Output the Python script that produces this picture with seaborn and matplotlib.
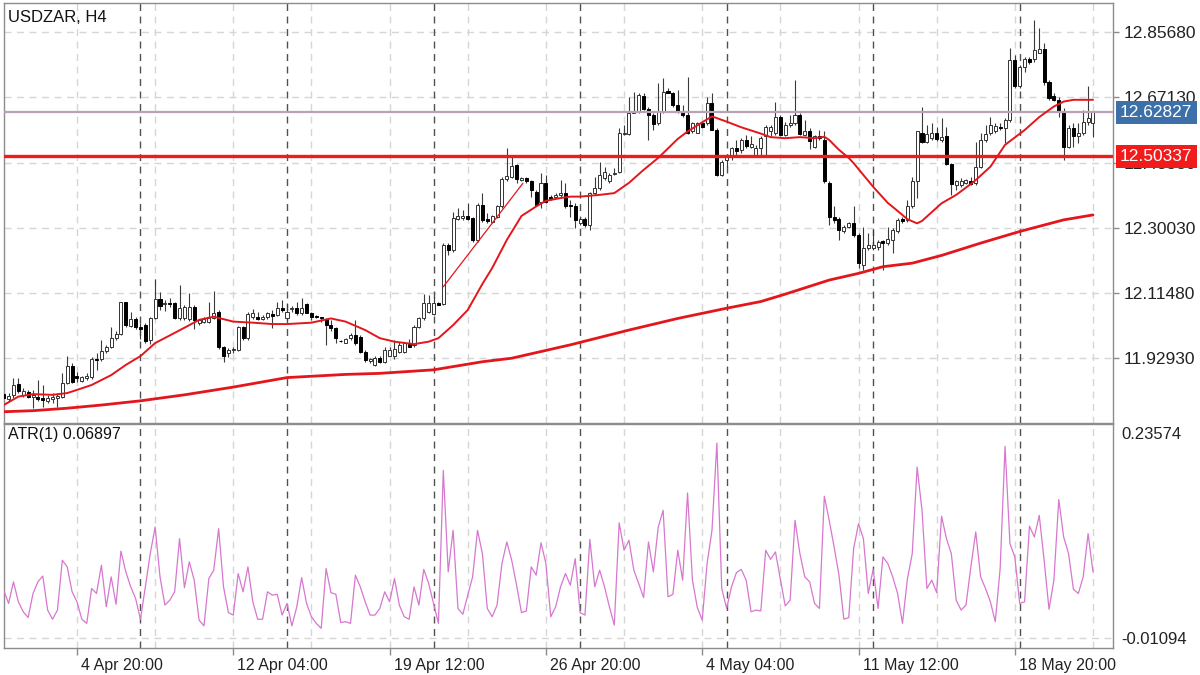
import numpy as np
import pandas as pd
import matplotlib
matplotlib.use("Agg")
import matplotlib.pyplot as plt
import matplotlib.transforms as mtransforms
import seaborn as sns

# USDZAR H4 candles, bar 0 = 2 Apr 12:00
opens = [
    11.828, 11.815, 11.825, 11.857, 11.825, 11.834, 11.819, 11.821, 11.816, 11.809,
    11.815, 11.817, 11.821, 11.861, 11.909, 11.880, 11.866, 11.874, 11.876, 11.929,
    11.927, 11.950, 11.963, 11.987, 11.999, 12.089, 12.022, 12.042, 12.018, 12.024,
    11.982, 12.044, 12.097, 12.084, 12.088, 12.086, 12.043, 12.043, 12.041, 12.075,
    12.031, 12.034, 12.033, 12.045, 12.062, 11.961, 11.944, 11.953, 11.953, 12.018,
    11.987, 12.046, 12.048, 12.042, 12.046, 12.055, 12.052, 12.072, 12.043, 12.069,
    12.072, 12.058, 12.084, 12.059, 12.050, 12.046, 12.041, 12.024, 12.015, 11.980,
    11.974, 11.987, 11.996, 11.991, 11.949, 11.923, 11.911, 11.930, 11.920, 11.936,
    11.935, 11.949, 11.949, 11.970, 11.968, 12.018, 12.043, 12.062, 12.056, 12.088,
    12.084, 12.252, 12.238, 12.325, 12.327, 12.334, 12.327, 12.266, 12.365, 12.325,
    12.318, 12.332, 12.361, 12.438, 12.446, 12.479, 12.436, 12.441, 12.432, 12.403,
    12.375, 12.427, 12.387, 12.389, 12.394, 12.400, 12.365, 12.363, 12.313, 12.325,
    12.309, 12.398, 12.413, 12.441, 12.432, 12.452, 12.460, 12.567, 12.567, 12.626,
    12.631, 12.675, 12.637, 12.621, 12.597, 12.631, 12.690, 12.684, 12.649, 12.633,
    12.621, 12.574, 12.571, 12.597, 12.597, 12.656, 12.578, 12.451, 12.493, 12.501,
    12.526, 12.522, 12.550, 12.529, 12.507, 12.526, 12.560, 12.574, 12.569, 12.614,
    12.564, 12.593, 12.597, 12.621, 12.564, 12.574, 12.529, 12.561, 12.550, 12.429,
    12.332, 12.325, 12.292, 12.302, 12.313, 12.280, 12.195, 12.242, 12.242, 12.245,
    12.264, 12.256, 12.266, 12.290, 12.325, 12.323, 12.361, 12.432, 12.571, 12.545,
    12.555, 12.571, 12.550, 12.561, 12.482, 12.422, 12.422, 12.427, 12.432, 12.427,
    12.474, 12.550, 12.569, 12.574, 12.588, 12.583, 12.607, 12.777, 12.702, 12.758,
    12.779, 12.779, 12.798, 12.808, 12.716, 12.675, 12.664, 12.631, 12.529, 12.583,
    12.561, 12.571, 12.602, 12.599,
]
highs = [
    11.835, 11.830, 11.873, 11.873, 11.845, 11.840, 11.840, 11.868, 11.854, 11.826,
    11.830, 11.832, 11.887, 11.936, 11.917, 11.892, 11.880, 11.887, 11.933, 11.944,
    11.982, 11.968, 12.020, 12.006, 12.091, 12.091, 12.060, 12.048, 12.029, 12.029,
    12.048, 12.154, 12.119, 12.095, 12.100, 12.091, 12.138, 12.081, 12.114, 12.081,
    12.041, 12.048, 12.091, 12.122, 12.067, 11.965, 11.958, 11.963, 12.022, 12.022,
    12.060, 12.069, 12.060, 12.053, 12.062, 12.067, 12.091, 12.095, 12.086, 12.077,
    12.091, 12.100, 12.088, 12.062, 12.053, 12.048, 12.043, 12.039, 12.020, 11.982,
    11.987, 12.001, 12.039, 11.996, 11.953, 11.930, 11.935, 11.935, 11.963, 11.963,
    11.982, 11.977, 11.977, 11.984, 12.025, 12.048, 12.112, 12.110, 12.105, 12.091,
    12.258, 12.256, 12.346, 12.356, 12.351, 12.370, 12.332, 12.372, 12.398, 12.342,
    12.337, 12.365, 12.446, 12.526, 12.507, 12.482, 12.446, 12.446, 12.436, 12.408,
    12.455, 12.451, 12.394, 12.400, 12.436, 12.427, 12.380, 12.370, 12.332, 12.332,
    12.403, 12.446, 12.488, 12.474, 12.457, 12.470, 12.583, 12.593, 12.673, 12.687,
    12.683, 12.683, 12.645, 12.626, 12.711, 12.725, 12.697, 12.687, 12.692, 12.649,
    12.730, 12.602, 12.600, 12.600, 12.671, 12.683, 12.583, 12.493, 12.507, 12.531,
    12.550, 12.555, 12.564, 12.560, 12.536, 12.560, 12.593, 12.593, 12.659, 12.621,
    12.602, 12.621, 12.719, 12.626, 12.607, 12.583, 12.564, 12.578, 12.574, 12.432,
    12.361, 12.332, 12.309, 12.318, 12.361, 12.285, 12.304, 12.285, 12.294, 12.266,
    12.266, 12.304, 12.299, 12.327, 12.332, 12.380, 12.446, 12.574, 12.645, 12.593,
    12.597, 12.588, 12.612, 12.588, 12.484, 12.436, 12.441, 12.440, 12.446, 12.545,
    12.569, 12.593, 12.616, 12.597, 12.597, 12.612, 12.810, 12.792, 12.763, 12.787,
    12.785, 12.891, 12.867, 12.825, 12.721, 12.683, 12.671, 12.640, 12.593, 12.597,
    12.597, 12.635, 12.702, 12.631,
]
lows = [
    11.811, 11.807, 11.816, 11.830, 11.821, 11.816, 11.788, 11.809, 11.792, 11.802,
    11.804, 11.792, 11.816, 11.857, 11.859, 11.863, 11.862, 11.868, 11.872, 11.897,
    11.923, 11.946, 11.959, 11.982, 11.996, 12.020, 12.018, 12.014, 11.984, 11.972,
    11.970, 12.041, 12.067, 12.065, 12.075, 12.041, 12.039, 12.039, 12.035, 12.012,
    12.024, 12.029, 12.029, 12.042, 11.957, 11.920, 11.933, 11.946, 11.951, 11.982,
    11.982, 12.040, 12.039, 12.039, 12.042, 12.015, 12.050, 12.062, 12.039, 12.062,
    12.053, 12.053, 12.058, 12.039, 12.043, 12.034, 11.968, 12.006, 11.972, 11.977,
    11.972, 11.982, 11.968, 11.944, 11.920, 11.916, 11.908, 11.917, 11.917, 11.935,
    11.927, 11.944, 11.944, 11.961, 11.963, 12.015, 12.039, 12.058, 12.053, 12.081,
    12.081, 12.223, 12.233, 12.323, 12.323, 12.323, 12.261, 12.261, 12.318, 12.315,
    12.313, 12.329, 12.356, 12.434, 12.441, 12.427, 12.432, 12.427, 12.389, 12.361,
    12.356, 12.370, 12.379, 12.387, 12.389, 12.356, 12.332, 12.299, 12.309, 12.304,
    12.294, 12.394, 12.408, 12.436, 12.427, 12.451, 12.455, 12.564, 12.564, 12.626,
    12.626, 12.635, 12.550, 12.577, 12.593, 12.626, 12.683, 12.645, 12.626, 12.616,
    12.567, 12.569, 12.569, 12.585, 12.593, 12.577, 12.448, 12.448, 12.474, 12.493,
    12.503, 12.512, 12.526, 12.526, 12.503, 12.507, 12.503, 12.560, 12.564, 12.561,
    12.561, 12.588, 12.593, 12.564, 12.560, 12.524, 12.526, 12.550, 12.427, 12.309,
    12.313, 12.266, 12.285, 12.299, 12.275, 12.185, 12.181, 12.237, 12.237, 12.237,
    12.181, 12.252, 12.228, 12.285, 12.313, 12.318, 12.356, 12.384, 12.542, 12.540,
    12.550, 12.548, 12.545, 12.479, 12.394, 12.408, 12.417, 12.424, 12.422, 12.422,
    12.470, 12.545, 12.564, 12.569, 12.578, 12.540, 12.602, 12.697, 12.697, 12.744,
    12.766, 12.770, 12.796, 12.706, 12.664, 12.662, 12.616, 12.493, 12.526, 12.531,
    12.540, 12.564, 12.593, 12.559,
]
closes = [
    11.816, 11.823, 11.854, 11.836, 11.838, 11.821, 11.826, 11.815, 11.811, 11.818,
    11.821, 11.823, 11.859, 11.909, 11.863, 11.873, 11.876, 11.880, 11.928, 11.925,
    11.951, 11.962, 11.987, 11.999, 12.089, 12.023, 12.042, 12.018, 12.014, 11.979,
    12.044, 12.097, 12.078, 12.088, 12.084, 12.043, 12.072, 12.075, 12.075, 12.039,
    12.039, 12.041, 12.045, 12.058, 11.961, 11.935, 11.953, 11.957, 12.020, 11.987,
    12.056, 12.058, 12.042, 12.048, 12.058, 12.050, 12.072, 12.067, 12.062, 12.072,
    12.058, 12.074, 12.059, 12.048, 12.046, 12.043, 12.024, 12.015, 11.987, 11.979,
    11.985, 11.996, 11.974, 11.949, 11.925, 11.927, 11.930, 11.920, 11.953, 11.953,
    11.955, 11.968, 11.972, 11.963, 12.020, 12.043, 12.086, 12.086, 12.088, 12.082,
    12.252, 12.238, 12.327, 12.334, 12.334, 12.325, 12.266, 12.365, 12.323, 12.320,
    12.334, 12.361, 12.438, 12.448, 12.476, 12.438, 12.441, 12.432, 12.408, 12.365,
    12.427, 12.375, 12.381, 12.394, 12.400, 12.361, 12.361, 12.323, 12.325, 12.307,
    12.398, 12.413, 12.451, 12.460, 12.451, 12.457, 12.569, 12.571, 12.626, 12.633,
    12.678, 12.637, 12.621, 12.595, 12.631, 12.687, 12.684, 12.649, 12.631, 12.621,
    12.569, 12.597, 12.597, 12.588, 12.656, 12.578, 12.451, 12.488, 12.501, 12.526,
    12.520, 12.550, 12.533, 12.539, 12.526, 12.555, 12.588, 12.588, 12.614, 12.564,
    12.593, 12.597, 12.621, 12.567, 12.574, 12.548, 12.561, 12.555, 12.432, 12.332,
    12.323, 12.294, 12.302, 12.313, 12.280, 12.200, 12.242, 12.252, 12.252, 12.261,
    12.258, 12.268, 12.294, 12.323, 12.321, 12.361, 12.432, 12.574, 12.545, 12.567,
    12.569, 12.552, 12.559, 12.482, 12.425, 12.432, 12.434, 12.436, 12.425, 12.474,
    12.550, 12.567, 12.593, 12.590, 12.583, 12.607, 12.777, 12.702, 12.758, 12.779,
    12.770, 12.806, 12.808, 12.716, 12.668, 12.664, 12.631, 12.529, 12.583, 12.561,
    12.571, 12.602, 12.612, 12.628,
]

# ATR(1)
atr = [
    0.047, 0.031, 0.057, 0.033, 0.021, 0.014, 0.043, 0.057, 0.064, 0.023,
    0.012, 0.023, 0.083, 0.075, 0.045, 0.033, 0.012, 0.007, 0.049, 0.043,
    0.077, 0.027, 0.063, 0.030, 0.094, 0.069, 0.051, 0.037, 0.012, 0.051,
    0.091, 0.123, 0.063, 0.029, 0.035, 0.045, 0.109, 0.050, 0.081, 0.059,
    0.011, 0.004, 0.061, 0.071, 0.121, 0.051, 0.020, 0.017, 0.067, 0.045,
    0.075, 0.033, 0.012, 0.012, 0.045, 0.041, 0.042, 0.017, 0.031, 0.004,
    0.027, 0.062, 0.031, 0.015, 0.007, 0.001, 0.073, 0.044, 0.042, 0.008,
    0.009, 0.007, 0.065, 0.051, 0.033, 0.017, 0.017, 0.025, 0.045, 0.033,
    0.061, 0.029, 0.015, 0.012, 0.051, 0.029, 0.072, 0.055, 0.031, 0.007,
    0.191, 0.069, 0.119, 0.025, 0.018, 0.041, 0.063, 0.119, 0.091, 0.025,
    0.015, 0.029, 0.079, 0.105, 0.083, 0.053, 0.020, 0.022, 0.075, 0.065,
    0.104, 0.079, 0.015, 0.027, 0.051, 0.067, 0.053, 0.085, 0.020, 0.017,
    0.108, 0.051, 0.071, 0.051, 0.027, 0.005, 0.128, 0.095, 0.107, 0.071,
    0.055, 0.038, 0.105, 0.069, 0.123, 0.143, 0.039, 0.042, 0.095, 0.059,
    0.164, 0.059, 0.026, 0.011, 0.079, 0.119, 0.224, 0.049, 0.025, 0.051,
    0.068, 0.072, 0.059, 0.021, 0.023, 0.022, 0.095, 0.084, 0.093, 0.060,
    0.028, 0.035, 0.131, 0.091, 0.063, 0.057, 0.031, 0.025, 0.160, 0.131,
    0.099, 0.065, 0.012, 0.014, 0.097, 0.127, 0.109, 0.043, 0.072, 0.025,
    0.087, 0.079, 0.063, 0.043, 0.007, 0.060, 0.091, 0.195, 0.143, 0.049,
    0.059, 0.044, 0.136, 0.109, 0.091, 0.035, 0.023, 0.029, 0.075, 0.117,
    0.063, 0.049, 0.033, 0.009, 0.073, 0.220, 0.103, 0.087, 0.031, 0.033,
    0.124, 0.111, 0.137, 0.083, 0.024, 0.059, 0.156, 0.111, 0.091, 0.048,
    0.043, 0.063, 0.115, 0.06897,
]

# moving averages (bar index, price)
ma_fast_bar = [0, 3, 6, 10, 13, 15, 18, 22, 25, 28, 31, 35, 38, 40, 43, 45, 47, 51, 55, 58,
               63, 67, 70, 74, 77, 80, 84, 87, 89, 92, 95, 98, 100, 103, 106, 109, 111, 114, 116, 118,
               122, 125, 128, 131, 134, 138, 140, 143, 145, 148, 151, 155, 157, 160, 163, 166, 168, 169, 171, 173,
               174, 178, 181, 182, 185, 187, 188, 192, 195, 198, 199, 202, 205, 209, 212, 215, 217, 219, 223]
ma_fast = [11.797, 11.821, 11.828, 11.826, 11.831, 11.840, 11.854, 11.882, 11.911, 11.936,
           11.973, 12.002, 12.024, 12.039, 12.048, 12.041, 12.034, 12.031, 12.027, 12.027,
           12.031, 12.043, 12.034, 12.010, 11.987, 11.977, 11.970, 11.977, 11.987, 12.024,
           12.067, 12.141, 12.186, 12.266, 12.334, 12.361, 12.377, 12.385, 12.389, 12.389,
           12.394, 12.399, 12.428, 12.465, 12.499, 12.553, 12.574, 12.600, 12.617, 12.602,
           12.586, 12.568, 12.558, 12.555, 12.558, 12.555, 12.559, 12.550, 12.522, 12.499,
           12.484, 12.417, 12.371, 12.360, 12.325, 12.313, 12.320, 12.370, 12.394, 12.425,
           12.436, 12.474, 12.536, 12.578, 12.615, 12.645, 12.659, 12.664, 12.664]
ma_slow_bar = [0, 6, 13, 20, 28, 37, 47, 58, 70, 77, 88, 98, 104, 116, 128, 138, 148, 155, 160, 169,
               175, 180, 186, 192, 200, 208, 217, 223]
ma_slow = [11.778, 11.781, 11.788, 11.797, 11.809, 11.826, 11.848, 11.875, 11.884, 11.887,
           11.897, 11.920, 11.930, 11.968, 12.010, 12.043, 12.072, 12.091, 12.112, 12.152,
           12.171, 12.190, 12.200, 12.222, 12.257, 12.290, 12.323, 12.337]

trend_bar = [90, 106.3]
trend_px = [12.133, 12.427]

bid = 12.62827
level = 12.50337
price_ticks = [11.92930, 12.11480, 12.30030, 12.48580, 12.67130, 12.85680]
atr_scale = [-0.01094, 0.23574]

time_tick_bars = [15, 47, 79, 111, 143, 175, 207]
time_tick_labels = ["4 Apr 20:00", "12 Apr 04:00", "19 Apr 12:00", "26 Apr 20:00",
                    "4 May 04:00", "11 May 12:00", "18 May 20:00"]
grid_bars = [15, 31, 47, 63, 79, 95, 111, 127, 143, 159, 175, 191, 207, 223]
week_sep_bars = [28, 58, 88, 118, 148, 178, 208]

sns.set_theme(style="white")
plt.rcParams["font.family"] = ["Liberation Sans", "DejaVu Sans"]

df = pd.DataFrame({"open": opens, "high": highs, "low": lows, "close": closes, "atr": atr})
df["bar"] = np.arange(len(df))
up = df["close"] >= df["open"]
body = (df["close"] - df["open"]).abs()

fig = plt.figure(figsize=(12, 6.75), dpi=100)
ax = fig.add_axes([4 / 1200, 1 - 423 / 675, 1109 / 1200, 420 / 675])
ax2 = fig.add_axes([4 / 1200, 1 - 648 / 675, 1109 / 1200, 224 / 675], sharex=ax)

grid_kw = dict(color="#d6d6d6", lw=1, ls=(0, (5, 4)), zorder=0)
sep_kw = dict(color="#505050", lw=1, ls=(0, (5, 4)), zorder=0.5)
for p in price_ticks:
    ax.axhline(p, **grid_kw)
for b in grid_bars:
    ax.axvline(b, **grid_kw)
    ax2.axvline(b, **grid_kw)
for b in week_sep_bars:
    ax.axvline(b, **sep_kw)
    ax2.axvline(b, **sep_kw)
ax2.axhline(atr_scale[0], **grid_kw)

# candles
ax.vlines(df["bar"], df["low"], df["high"], color="#3a3a3a", lw=0.8, zorder=2)
ax.bar(df["bar"][up], body[up], bottom=df["open"][up], width=0.62,
       color="white", edgecolor="#333333", linewidth=0.7, zorder=3)
ax.bar(df["bar"][~up], body[~up], bottom=df["close"][~up], width=0.62,
       color="black", edgecolor="black", linewidth=0.7, zorder=3)

ax.axhline(bid, color="#b7a2b8", lw=1.6, zorder=3.5)
ax.axhline(level, color="#ee1c1c", lw=2.4, zorder=3.5)

sns.lineplot(x=ma_slow_bar, y=ma_slow, ax=ax, color="#e3161c", lw=2.0, zorder=4)
sns.lineplot(x=ma_fast_bar, y=ma_fast, ax=ax, color="#e3161c", lw=1.4, zorder=4)
sns.lineplot(x=trend_bar, y=trend_px, ax=ax, color="#e3161c", lw=0.9, zorder=4)

sns.lineplot(data=df, x="bar", y="atr", ax=ax2, color="#d777cf", lw=0.9, zorder=3)

ax.set_xlim(0.06, 227.1)
ax.set_ylim(11.746, 12.939)
ax2.set_ylim(-0.0226, 0.2469)
for a in (ax, ax2):
    a.set_xlabel("")
    a.set_ylabel("")
    a.set_facecolor("white")
    for s in a.spines.values():
        s.set_color("#8c8c8c")
        s.set_linewidth(1)

ax.yaxis.tick_right()
ax.set_yticks(price_ticks)
ax.set_yticklabels([f"{p:.5f}" for p in price_ticks])
ax.tick_params(axis="y", right=True, labelright=True, length=4, width=1, color="#8c8c8c",
               labelsize=12.5, pad=4, labelcolor="#222222")
ax.tick_params(axis="x", bottom=False, labelbottom=False)

ax2.yaxis.tick_right()
ax2.set_yticks(atr_scale)
ax2.set_yticklabels([f"{v:.5f}" for v in atr_scale])
ax2.tick_params(axis="y", right=True, labelright=True, length=0, labelsize=12, pad=6,
                labelcolor="#222222")
ax2.set_xticks(time_tick_bars)
ax2.set_xticklabels(time_tick_labels)
ax2.tick_params(axis="x", bottom=True, length=5, width=1, color="#8c8c8c", labelsize=11.5,
                pad=2, labelcolor="#222222")
shift = mtransforms.ScaledTranslation(4 / 100, 0, fig.dpi_scale_trans)
for lbl in ax2.get_xticklabels():
    lbl.set_horizontalalignment("left")
    lbl.set_transform(lbl.get_transform() + shift)

# price boxes on the right scale (the red one sits over the 12.48580 label, as in the app)
for val, fc in [(bid, "#3d70a8"), (level, "#f21b1b")]:
    ax.annotate(f"{val:.5f}", xy=(1, val), xycoords=("axes fraction", "data"),
                xytext=(5, 0), textcoords="offset points", ha="left", va="center",
                fontsize=12.5, color="white", annotation_clip=False, zorder=6,
                bbox=dict(boxstyle="square,pad=0.25", fc=fc, ec="none"))

fig.text(8 / 1200, 1 - 17 / 675, "USDZAR, H4", ha="left", va="center", fontsize=12, color="#111111")
fig.text(8 / 1200, 1 - 435 / 675, f"ATR(1) {atr[-1]:.5f}", ha="left", va="center",
         fontsize=11.5, color="#111111")

fig.savefig("out.png", dpi=100)
